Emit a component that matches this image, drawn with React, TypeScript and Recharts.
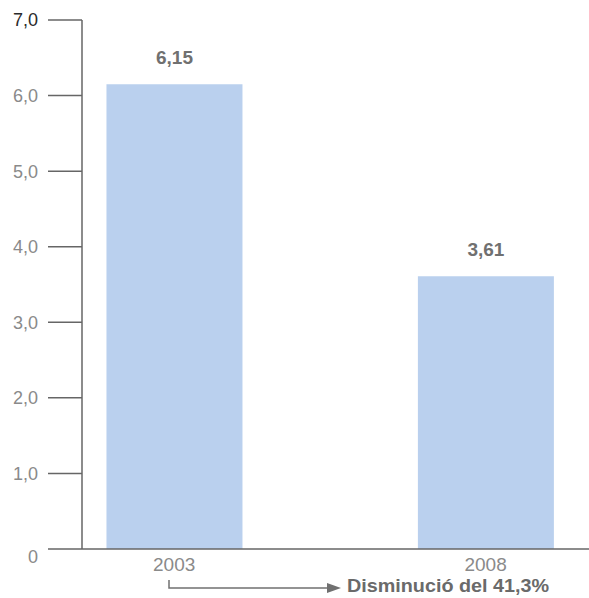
import React from 'react';
import { BarChart, Bar, XAxis, YAxis, LabelList } from 'recharts';

const years = [2003, 2008];
const values = [6.15, 3.61];
const yTicks = [0, 1, 2, 3, 4, 5, 6, 7];
const noteText = 'Disminució del 41,3%';

const data = years.map((year, i) => ({ year, value: values[i] }));

const FONT = '"Liberation Sans", Arial, Helvetica, sans-serif';
const fmt = (v: number) => (v === 0 ? '0' : v.toFixed(1).replace('.', ','));

const YTick = (props: any) => {
  const { x, y, payload } = props;
  const v = payload.value;
  return (
    <text
      x={x}
      y={y}
      dy={v === 0 ? '0.75em' : '0.355em'}
      textAnchor="end"
      fontFamily={FONT}
      fontSize={18}
      fill={v === 7 ? '#2a2a2a' : '#8a8a8a'}
    >
      {fmt(v)}
    </text>
  );
};

export default function App() {
  return (
    <div style={{ position: 'absolute', left: 0, top: 0, width: 589, height: 598, background: '#fff' }}>
      <BarChart
        width={589}
        height={598}
        data={data}
        margin={{ top: 20, right: 0, left: 0, bottom: 19 }}
      >
        <XAxis
          dataKey="year"
          type="number"
          domain={[2001.52, 2009.66]}
          ticks={years}
          allowDataOverflow
          tickLine={false}
          tickSize={0}
          tickMargin={9}
          height={30}
          axisLine={{ stroke: '#666', strokeWidth: 1.5 }}
          tick={{ fontFamily: FONT, fontSize: 19, fill: '#8a8a8a' }}
        />
        <YAxis
          domain={[0, 7]}
          ticks={yTicks}
          width={82}
          tickSize={34}
          tickMargin={10}
          interval={0}
          axisLine={{ stroke: '#666', strokeWidth: 1.5 }}
          tickLine={{ stroke: '#666', strokeWidth: 1.5 }}
          tick={<YTick />}
        />
        <Bar dataKey="value" fill="#bad0ee" barSize={136} isAnimationActive={false}>
          <LabelList
            dataKey="value"
            position="top"
            offset={20}
            formatter={(v: any) => Number(v).toFixed(2).replace('.', ',')}
            style={{ fontFamily: FONT, fontSize: 19, fontWeight: 'bold', fill: '#707070' }}
          />
        </Bar>
      </BarChart>
      <svg
        width={589}
        height={598}
        style={{ position: 'absolute', left: 0, top: 0, pointerEvents: 'none' }}
      >
        <polyline points="169,580 169,588 328,588" fill="none" stroke="#707070" strokeWidth={1.5} />
        <polygon points="327,583 341,588 327,593" fill="#707070" />
        <text
          x={347}
          y={592}
          fontFamily={FONT}
          fontSize={18}
          fontWeight="bold"
          fill="#6a6a6a"
          textLength={202}
          lengthAdjust="spacingAndGlyphs"
        >
          {noteText}
        </text>
      </svg>
    </div>
  );
}
